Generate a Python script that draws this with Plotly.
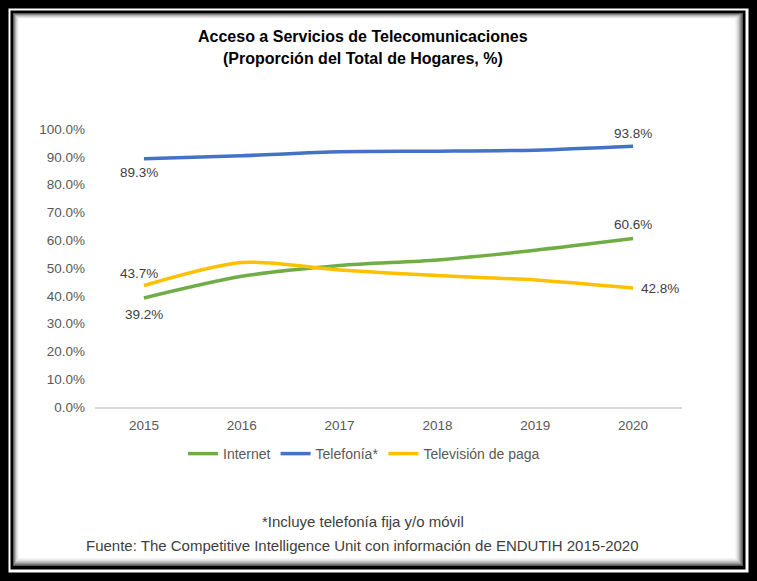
import plotly.graph_objects as go

# ---------------- data ----------------
years = ["2015", "2016", "2017", "2018", "2019", "2020"]
internet = [39.2, 47.0, 50.9, 52.9, 56.4, 60.6]
telefonia = [89.3, 90.4, 91.8, 92.0, 92.4, 93.8]
tv_paga = [43.7, 52.0, 49.3, 47.3, 45.7, 42.8]
series_names = ["Internet", "Telefonía*", "Televisión de paga"]
y_ticks = [0, 10, 20, 30, 40, 50, 60, 70, 80, 90, 100]

title_1 = "Acceso a Servicios de Telecomunicaciones"
title_2 = "(Proporción del Total de Hogares, %)"
note_1 = "*Incluye telefonía fija y/o móvil"
note_2 = "Fuente: The Competitive Intelligence Unit con información de ENDUTIH 2015-2020"

# ---------------- layout geometry ----------------
W, H = 757, 581
L, R, T, B = 95, 75, 129, 174
PW, PH = W - L - R, H - T - B


def px(x):
    return (x - L) / PW


def py(y):
    return (H - B - y) / PH


colors = ["#70AD47", "#4472C4", "#FFC000"]
FONT = "Liberation Sans, Arial, sans-serif"

fig = go.Figure()
for name, vals, col in zip(series_names, [internet, telefonia, tv_paga], colors):
    fig.add_trace(go.Scatter(
        x=years, y=vals, name=name, mode="lines",
        line=dict(color=col, width=3.5, shape="spline", smoothing=0.8),
        hoverinfo="x+y+name",
    ))

# data labels on first and last points (x given as category index)
label_specs = [
    (internet, 0, 0, -16, "center"),
    (internet, 5, 0, 14, "center"),
    (telefonia, 0, -5, -14, "center"),
    (telefonia, 5, 0, 13, "center"),
    (tv_paga, 0, -5, 12, "center"),
    (tv_paga, 5, 6, 0, "left"),
]
annotations = []
for vals, i, xs, ys, xa in label_specs:
    annotations.append(dict(
        x=i, y=vals[i], xref="x", yref="y",
        text=f"{vals[i]:.1f}%", showarrow=False,
        xshift=xs, yshift=ys, xanchor=xa, yanchor="middle",
        font=dict(family=FONT, size=13.5, color="#404040"),
    ))

# titles & notes
for txt, cy, size, bold, col in [
    (title_1, 36, 16, True, "#000000"),
    (title_2, 58, 16, True, "#000000"),
    (note_1, 521, 15, False, "#404040"),
    (note_2, 545, 15, False, "#404040"),
]:
    annotations.append(dict(
        x=px(362.5), y=py(cy), xref="paper", yref="paper",
        text=f"<b>{txt}</b>" if bold else txt, showarrow=False,
        xanchor="center", yanchor="middle",
        font=dict(family=FONT, size=size, color=col),
    ))

# frame shapes
shapes = []


def rect(x0, y0, x1, y1, fill):
    shapes.append(dict(
        type="rect", xref="paper", yref="paper",
        x0=px(x0), x1=px(x1), y0=py(y1), y1=py(y0),
        fillcolor=fill, line=dict(width=0), layer="below",
    ))


rect(8.5, 8.5, 748.5, 572.5, "#ffffff")
rect(10.5, 10.5, 745.5, 569.5, "#000000")
grad = ["#555555", "#777777", "#959595", "#b0b0b0", "#c8c8c8", "#dcdcdc", "#eaeaea", "#f5f5f5", "#ffffff"]
for k, c in enumerate(grad):
    rect(13 + k * 0.7, 13 + k * 0.7, 743 - k * 1.0, 566 - k * 1.0, c)

fig.update_layout(
    width=W, height=H,
    margin=dict(l=L, r=R, t=T, b=B),
    paper_bgcolor="#000000",
    plot_bgcolor="#ffffff",
    showlegend=True,
    legend=dict(
        orientation="h", x=px(364), y=py(454), xanchor="center", yanchor="middle",
        font=dict(family=FONT, size=14, color="#595959"),
        bgcolor="rgba(0,0,0,0)", itemwidth=30, tracegroupgap=0,
    ),
    annotations=annotations,
    shapes=shapes,
    font=dict(family=FONT),
)
fig.update_xaxes(
    type="category", range=[-0.5, 5.5],
    showgrid=False, zeroline=False,
    showline=True, linecolor="#d9d9d9", linewidth=1.5,
    ticks="", ticklabelstandoff=5,
    tickfont=dict(family=FONT, size=13.5, color="#595959"),
)
fig.update_yaxes(
    range=[0, 100], tickvals=y_ticks,
    ticktext=[f"{v:.1f}%" for v in y_ticks],
    showgrid=False, zeroline=False, showline=False,
    ticks="", ticklabelstandoff=9,
    tickfont=dict(family=FONT, size=13.5, color="#595959"),
)

fig.write_html(
    "out.html",
    config={"displayModeBar": False},
    post_script="document.body.style.margin='0';document.body.style.background='#000';",
)
